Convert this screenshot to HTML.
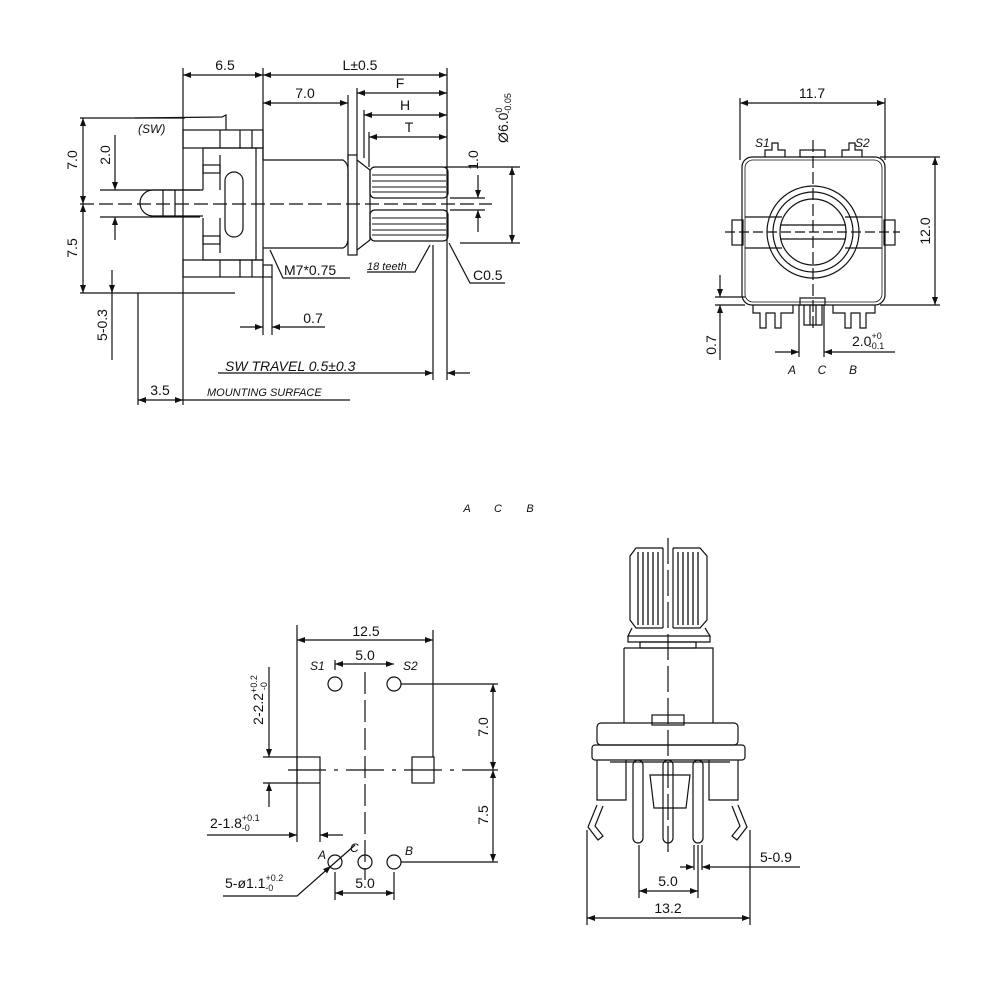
<!DOCTYPE html>
<html><head><meta charset="utf-8"><style>
html,body{margin:0;padding:0;background:#fff}
svg{display:block}
text{font-family:"Liberation Sans",sans-serif;fill:#111}
.d{font-size:14px}
.i{font-style:italic;font-size:12px}
</style></head><body>
<svg width="1002" height="1002" viewBox="0 0 1002 1002" xmlns="http://www.w3.org/2000/svg">
<defs>
<marker id="a" markerWidth="8" markerHeight="6" refX="8" refY="3" orient="auto-start-reverse" markerUnits="userSpaceOnUse"><path d="M0,0 L8,3 L0,6 z" fill="#111"/></marker>
</defs>
<rect width="1002" height="1002" fill="#fff"/>
<g stroke="#111" stroke-width="1.2" fill="none">
<line x1="183" y1="68" x2="183" y2="405"/>
<line x1="263" y1="68" x2="263" y2="160"/>
<line x1="447" y1="68" x2="447" y2="380"/>
<line x1="348" y1="95" x2="348" y2="160"/>
<line x1="357" y1="88" x2="357" y2="155"/>
<line x1="364" y1="110" x2="364" y2="158"/>
<line x1="369" y1="132" x2="369" y2="167"/>
<line x1="183" y1="75" x2="263" y2="75" marker-start="url(#a)" marker-end="url(#a)"/>
<line x1="263" y1="75" x2="447" y2="75" marker-start="url(#a)" marker-end="url(#a)"/>
<line x1="263" y1="103" x2="348" y2="103" marker-start="url(#a)" marker-end="url(#a)"/>
<line x1="357" y1="93" x2="447" y2="93" marker-start="url(#a)" marker-end="url(#a)"/>
<line x1="364" y1="115" x2="447" y2="115" marker-start="url(#a)" marker-end="url(#a)"/>
<line x1="369" y1="137" x2="447" y2="137" marker-start="url(#a)" marker-end="url(#a)"/>
<path d="M135,118 L222,117 L226,115 L226,130"/>
<rect x="183" y="130" width="80" height="18"/>
<line x1="220" y1="130" x2="220" y2="148"/><line x1="240" y1="130" x2="240" y2="148"/><line x1="252" y1="130" x2="252" y2="148"/>
<rect x="183" y="260" width="80" height="17"/>
<line x1="220" y1="260" x2="220" y2="277"/><line x1="240" y1="260" x2="240" y2="277"/><line x1="252" y1="260" x2="252" y2="277"/>
<rect x="263" y="265" width="9" height="12"/>
<path d="M203,148 L263,148 L263,260 L203,260 L203,218 M203,190 L203,148"/>
<line x1="220" y1="155" x2="220" y2="190"/><line x1="220" y1="218" x2="220" y2="253"/>
<rect x="203" y="165" width="17" height="8"/><rect x="203" y="236" width="17" height="8"/>
<rect x="225" y="172" width="18" height="65" rx="9"/>
<line x1="256" y1="148" x2="256" y2="260"/>
<path d="M203,190 L153,190 A13,13 0 0 0 153,216 L203,216"/>
<line x1="163" y1="190" x2="163" y2="216"/><line x1="175" y1="190" x2="175" y2="216"/>
<path d="M263,160 L343,160 Q348,163 348,170 L348,238 Q348,246 343,248 L263,248"/>
<rect x="348" y="155" width="9" height="100"/>
<path d="M357,160 L370,170 L370,240 L357,250"/>
<rect x="370" y="167" width="78" height="31" rx="5"/>
<rect x="370" y="210" width="78" height="31" rx="5"/>
<path d="M372,175 H446 M372,181 H446 M372,187 H446 M372,192 H446 M372,218 H446 M372,224 H446 M372,230 H446 M372,235 H446" stroke-width="0.9"/>
<line x1="80" y1="204" x2="492" y2="204" stroke-dasharray="14,5"/>
<line x1="80" y1="118" x2="185" y2="118"/>
<line x1="80" y1="293" x2="235" y2="293"/>
<line x1="83" y1="118" x2="83" y2="204" marker-start="url(#a)" marker-end="url(#a)"/>
<line x1="83" y1="204" x2="83" y2="293" marker-start="url(#a)" marker-end="url(#a)"/>
<line x1="100" y1="190" x2="200" y2="190"/><line x1="100" y1="217" x2="200" y2="217"/>
<line x1="115" y1="135" x2="115" y2="190" marker-end="url(#a)"/>
<line x1="115" y1="240" x2="115" y2="217" marker-end="url(#a)"/>
<line x1="112" y1="270" x2="112" y2="293" marker-end="url(#a)"/>
<line x1="112" y1="360" x2="112" y2="293"/>
<line x1="138" y1="293" x2="138" y2="405"/>
<line x1="138" y1="400" x2="183" y2="400" marker-start="url(#a)" marker-end="url(#a)"/>
<line x1="183" y1="400" x2="350" y2="400"/>
<line x1="263" y1="277" x2="263" y2="335"/><line x1="272" y1="277" x2="272" y2="335"/>
<line x1="240" y1="327" x2="263" y2="327" marker-end="url(#a)"/>
<line x1="325" y1="327" x2="272" y2="327" marker-end="url(#a)"/>
<path d="M270,250 L283,278 L350,278"/>
<path d="M367,272 L415,272 L430,245"/>
<path d="M449,243 L470,283 L505,283"/>
<line x1="433" y1="245" x2="433" y2="380"/>
<line x1="218" y1="373" x2="433" y2="373" marker-end="url(#a)"/>
<line x1="470" y1="373" x2="447" y2="373" marker-end="url(#a)"/>
<line x1="445" y1="167" x2="520" y2="167"/><line x1="460" y1="243" x2="520" y2="243"/>
<line x1="512" y1="167" x2="512" y2="243" marker-start="url(#a)" marker-end="url(#a)"/>
<line x1="450" y1="198" x2="485" y2="198"/><line x1="450" y1="210" x2="485" y2="210"/>
<line x1="478" y1="175" x2="478" y2="198" marker-end="url(#a)"/>
<line x1="478" y1="232" x2="478" y2="210" marker-end="url(#a)"/>

<line x1="740" y1="98" x2="740" y2="160"/><line x1="885" y1="98" x2="885" y2="160"/>
<line x1="740" y1="103" x2="885" y2="103" marker-start="url(#a)" marker-end="url(#a)"/>
<rect x="742" y="157" width="143" height="148" rx="10"/>
<rect x="745" y="160" width="137" height="142" rx="8" stroke-width="0.8"/>
<rect x="800" y="150" width="25" height="7"/>
<path d="M765,157 V150 H772 V143 H778 V150 H785 V157 M842,157 V150 H849 V143 H855 V150 H862 V157"/>
<path d="M745,217 H782 M845,217 H882 M745,248 H782 M845,248 H882"/>
<rect x="732" y="220" width="11" height="25"/><rect x="884" y="220" width="11" height="25"/>
<circle cx="813" cy="232" r="46"/>
<circle cx="813" cy="232" r="40"/>
<circle cx="813" cy="232" r="33"/>
<line x1="780" y1="225" x2="846" y2="225"/><line x1="780" y1="239" x2="846" y2="239"/>
<line x1="725" y1="232" x2="900" y2="232" stroke-dasharray="10,4"/>
<line x1="813" y1="140" x2="813" y2="330" stroke-dasharray="12,4"/>
<rect x="800" y="298" width="25" height="7"/>
<path d="M753,305 V313 H760 V328 H766 V313 H775 V328 H781 V313 H793 V305"/>
<path d="M833,305 V313 H845 V328 H851 V313 H860 V328 H866 V313 H875 V305"/>
<path d="M804,305 V325 H822 V305 M810,305 V325 M816,305 V325"/>
<line x1="880" y1="157" x2="940" y2="157"/><line x1="880" y1="305" x2="940" y2="305"/>
<line x1="935" y1="157" x2="935" y2="305" marker-start="url(#a)" marker-end="url(#a)"/>
<line x1="715" y1="297" x2="745" y2="297"/><line x1="715" y1="305" x2="745" y2="305"/>
<line x1="720" y1="275" x2="720" y2="297" marker-end="url(#a)"/>
<line x1="720" y1="360" x2="720" y2="305" marker-end="url(#a)"/>
<line x1="799" y1="305" x2="799" y2="357"/><line x1="824" y1="305" x2="824" y2="357"/>
<line x1="775" y1="352" x2="799" y2="352" marker-end="url(#a)"/>
<line x1="895" y1="352" x2="824" y2="352" marker-end="url(#a)"/>

<line x1="297" y1="625" x2="297" y2="842"/><line x1="433" y1="630" x2="433" y2="757"/>
<line x1="297" y1="640" x2="433" y2="640" marker-start="url(#a)" marker-end="url(#a)"/>
<line x1="335" y1="660" x2="335" y2="670"/>
<line x1="335" y1="664" x2="394" y2="664" marker-start="url(#a)" marker-end="url(#a)"/>
<circle cx="335" cy="684" r="7"/><circle cx="394" cy="684" r="7"/>
<line x1="401" y1="684" x2="498" y2="684"/>
<rect x="297" y="757" width="23" height="26"/><rect x="412" y="757" width="22" height="26"/>
<line x1="365" y1="672" x2="365" y2="880" stroke-dasharray="22,6"/>
<line x1="288" y1="770" x2="498" y2="770" stroke-dasharray="38,8,4,8"/>
<line x1="263" y1="757" x2="297" y2="757"/><line x1="263" y1="783" x2="297" y2="783"/>
<line x1="269" y1="667" x2="269" y2="757" marker-end="url(#a)"/>
<line x1="269" y1="807" x2="269" y2="783" marker-end="url(#a)"/>
<line x1="320" y1="783" x2="320" y2="842"/>
<line x1="207" y1="835" x2="297" y2="835" marker-end="url(#a)"/>
<line x1="343" y1="835" x2="320" y2="835" marker-end="url(#a)"/>
<circle cx="335" cy="862" r="7"/><circle cx="365" cy="862" r="7"/><circle cx="394" cy="862" r="7"/>
<line x1="330" y1="867" x2="355" y2="845"/>
<line x1="401" y1="862" x2="498" y2="862"/>
<line x1="493" y1="684" x2="493" y2="770" marker-start="url(#a)" marker-end="url(#a)"/>
<line x1="493" y1="770" x2="493" y2="862" marker-start="url(#a)" marker-end="url(#a)"/>
<path d="M223,896 L297,896 L331,866" marker-end="url(#a)"/>
<line x1="335" y1="872" x2="335" y2="900"/><line x1="394" y1="872" x2="394" y2="900"/>
<line x1="335" y1="893" x2="394" y2="893" marker-start="url(#a)" marker-end="url(#a)"/>

<path d="M636,548 H700 L707,556 V620 L700,628 H636 L630,620 V556 Z"/>
<rect x="663" y="546" width="10" height="84" fill="#fff" stroke="none"/>
<line x1="663" y1="548" x2="663" y2="628"/><line x1="673" y1="548" x2="673" y2="628"/>
<path d="M638,552 V625 M643,552 V625 M648,552 V625 M653,552 V625 M658,552 V625 M678,552 V625 M683,552 V625 M688,552 V625 M693,552 V625 M698,552 V625" stroke-width="1.3"/>
<path d="M632,628 L628,636 H710 L705,628 M628,636 V642 H710 V636"/>
<rect x="640" y="642" width="56" height="6"/>
<path d="M624,648 H713 V723 M624,648 V723"/>
<line x1="668" y1="538" x2="668" y2="855" stroke-dasharray="26,6"/>
<rect x="652" y="715" width="32" height="10"/>
<rect x="597" y="723" width="141" height="22" rx="4"/>
<rect x="592" y="745" width="153" height="15" rx="3"/>
<path d="M597,760 V800 H626 V760 M738,760 V800 H709 V760"/>
<path d="M650,775 H690 L686,808 H654 Z"/>
<line x1="610" y1="762" x2="730" y2="762"/>
<path d="M633,765 V838 A5,5 0 0 0 643,838 V765 A5,5 0 0 0 633,765"/>
<path d="M663,765 V838 A5,5 0 0 0 673,838 V765 A5,5 0 0 0 663,765"/>
<path d="M693,765 V838 A5,5 0 0 0 703,838 V765 A5,5 0 0 0 693,765"/>
<path d="M597,805 L588,827 L598,840 L603,836 L595,826 L603,806"/>
<path d="M738,805 L747,827 L737,840 L732,836 L740,826 L732,806"/>
<line x1="587" y1="830" x2="587" y2="925"/><line x1="750" y1="830" x2="750" y2="925"/>
<line x1="587" y1="918" x2="750" y2="918" marker-start="url(#a)" marker-end="url(#a)"/>
<line x1="639" y1="845" x2="639" y2="898"/><line x1="698" y1="845" x2="698" y2="898"/>
<line x1="639" y1="891" x2="698" y2="891" marker-start="url(#a)" marker-end="url(#a)"/>
<line x1="694" y1="845" x2="694" y2="870"/><line x1="702" y1="845" x2="702" y2="870"/>
<line x1="680" y1="867" x2="694" y2="867" marker-end="url(#a)"/>
<line x1="800" y1="867" x2="702" y2="867" marker-end="url(#a)"/>
</g>

<text class="d" x="225" y="70" text-anchor="middle">6.5</text>
<text class="d" x="360" y="70" text-anchor="middle">L±0.5</text>
<text class="d" x="305" y="98" text-anchor="middle">7.0</text>
<text class="d" x="400" y="88" text-anchor="middle">F</text>
<text class="d" x="405" y="110" text-anchor="middle">H</text>
<text class="d" x="409" y="132" text-anchor="middle">T</text>
<text class="i" x="138" y="133">(SW)</text>
<text class="d" transform="translate(77,160) rotate(-90)" text-anchor="middle">7.0</text>
<text class="d" transform="translate(77,248) rotate(-90)" text-anchor="middle">7.5</text>
<text class="d" transform="translate(110,155) rotate(-90)" text-anchor="middle">2.0</text>
<text class="d" transform="translate(107,325) rotate(-90)" text-anchor="middle">5-0.3</text>
<text class="d" x="160" y="395" text-anchor="middle">3.5</text>
<text style="font-size:11px;font-style:italic" x="207" y="396">MOUNTING SURFACE</text>
<text style="font-size:14px;font-style:italic" x="225" y="371">SW TRAVEL 0.5±0.3</text>
<text class="d" x="313" y="323" text-anchor="middle">0.7</text>
<text class="d" x="284" y="275">M7*0.75</text>
<text class="i" x="367" y="270" style="font-size:11px">18 teeth</text>
<text class="d" x="473" y="280">C0.5</text>
<text class="d" transform="translate(478,160) rotate(-90)" text-anchor="middle">1.0</text>
<text class="d" transform="translate(508,118) rotate(-90)" text-anchor="middle">Ø6.0<tspan font-size="9" dy="-6">0</tspan><tspan font-size="9" dx="-6" dy="9">-0.05</tspan></text>

<text class="d" x="812" y="98" text-anchor="middle">11.7</text>
<text class="i" x="755" y="147">S1</text>
<text class="i" x="855" y="147">S2</text>
<text class="d" transform="translate(930,231) rotate(-90)" text-anchor="middle">12.0</text>
<text class="d" transform="translate(716,345) rotate(-90)" text-anchor="middle">0.7</text>
<text class="d" x="852" y="346">2.0<tspan font-size="9" dy="-7">+0</tspan><tspan font-size="9" dx="-13" dy="10">-0.1</tspan></text>
<text class="i" x="792" y="374" text-anchor="middle">A</text>
<text class="i" x="822" y="374" text-anchor="middle">C</text>
<text class="i" x="853" y="374" text-anchor="middle">B</text>

<text class="i" x="467" y="512" text-anchor="middle" style="font-size:11px">A</text>
<text class="i" x="498" y="512" text-anchor="middle" style="font-size:11px">C</text>
<text class="i" x="530" y="512" text-anchor="middle" style="font-size:11px">B</text>

<text class="d" x="366" y="636" text-anchor="middle">12.5</text>
<text class="d" x="365" y="660" text-anchor="middle">5.0</text>
<text class="i" x="310" y="670">S1</text>
<text class="i" x="403" y="670">S2</text>
<text class="d" transform="translate(263,700) rotate(-90)" text-anchor="middle">2-2.2<tspan font-size="9" dy="-6">+0.2</tspan><tspan font-size="9" dx="-15" dy="10">-0</tspan></text>
<text class="d" x="210" y="828">2-1.8<tspan font-size="9" dy="-7">+0.1</tspan><tspan font-size="9" dx="-18" dy="10">-0</tspan></text>
<text class="d" transform="translate(488,727) rotate(-90)" text-anchor="middle">7.0</text>
<text class="d" transform="translate(488,815) rotate(-90)" text-anchor="middle">7.5</text>
<text class="i" x="318" y="859">A</text>
<text class="i" x="350" y="852">C</text>
<text class="i" x="405" y="855">B</text>
<text class="d" x="225" y="888">5-ø1.1<tspan font-size="9" dy="-7">+0.2</tspan><tspan font-size="9" dx="-18" dy="10">-0</tspan></text>
<text class="d" x="365" y="888" text-anchor="middle">5.0</text>
<text class="d" x="760" y="862">5-0.9</text>
<text class="d" x="668" y="886" text-anchor="middle">5.0</text>
<text class="d" x="668" y="913" text-anchor="middle">13.2</text>
</svg>
</body></html>
